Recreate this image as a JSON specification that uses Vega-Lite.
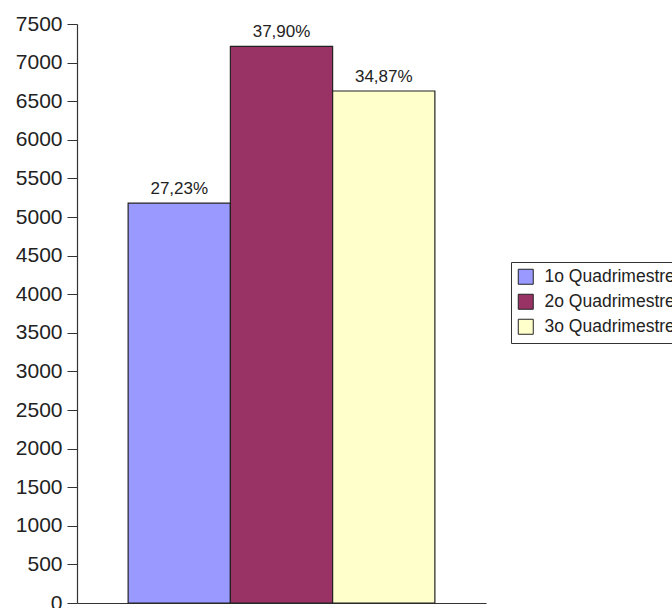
{
  "$schema": "https://vega.github.io/schema/vega-lite/v6.json",
  "autosize": "none",
  "padding": {"left": 77, "top": 24, "right": 186, "bottom": 5},
  "width": 409,
  "height": 579,
  "background": "white",
  "config": {
    "view": {"stroke": null},
    "font": "Liberation Sans"
  },
  "data": {
    "values": [
      {"quadrimestre": "1o Quadrimestre", "total": 5179, "percentual": "27,23%"},
      {"quadrimestre": "2o Quadrimestre", "total": 7209, "percentual": "37,90%"},
      {"quadrimestre": "3o Quadrimestre", "total": 6632, "percentual": "34,87%"}
    ]
  },
  "encoding": {
    "x": {
      "field": "quadrimestre",
      "type": "nominal",
      "sort": null,
      "scale": {"paddingInner": 0, "paddingOuter": 0.5},
      "axis": {
        "title": null,
        "labels": false,
        "ticks": false,
        "domainColor": "#333333",
        "domainWidth": 1.2
      }
    },
    "y": {
      "field": "total",
      "type": "quantitative",
      "scale": {"domain": [0, 7500], "nice": false},
      "axis": {
        "title": null,
        "format": "d",
        "values": [0, 500, 1000, 1500, 2000, 2500, 3000, 3500, 4000, 4500, 5000, 5500, 6000, 6500, 7000, 7500],
        "grid": false,
        "tickSize": 10,
        "tickColor": "#333333",
        "domainColor": "#333333",
        "domainWidth": 1.2,
        "labelFontSize": 21,
        "labelColor": "#222222",
        "labelPadding": 5
      }
    }
  },
  "layer": [
    {
      "mark": {"type": "bar", "stroke": "#222222", "strokeWidth": 1.2},
      "encoding": {
        "color": {
          "field": "quadrimestre",
          "type": "nominal",
          "sort": null,
          "scale": {
            "domain": ["1o Quadrimestre", "2o Quadrimestre", "3o Quadrimestre"],
            "range": ["#9999FF", "#993366", "#FFFFCC"]
          },
          "legend": {
            "title": null,
            "orient": "none",
            "legendX": 434,
            "legendY": 238,
            "symbolType": "square",
            "symbolSize": 225,
            "symbolStrokeColor": "#222222",
            "symbolStrokeWidth": 1,
            "labelFontSize": 17.5,
            "labelColor": "#222222",
            "labelOffset": 10,
            "labelLimit": 300,
            "rowPadding": 5,
            "padding": 6,
            "strokeColor": "#333333",
            "fillColor": "white"
          }
        }
      }
    },
    {
      "mark": {"type": "text", "baseline": "bottom", "dy": -5, "fontSize": 17, "color": "#222222"},
      "encoding": {
        "text": {"field": "percentual"}
      }
    }
  ]
}
